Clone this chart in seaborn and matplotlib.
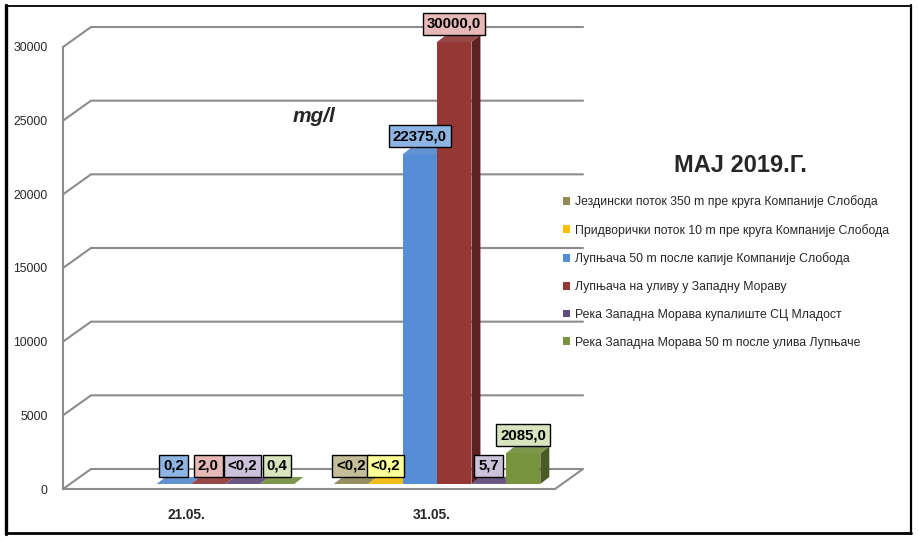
import matplotlib
matplotlib.use("Agg")
import matplotlib.pyplot as plt
import matplotlib.transforms as mtransforms
from matplotlib.lines import Line2D
from matplotlib.patches import Patch, Polygon
from matplotlib.colors import to_rgb
import numpy as np
import pandas as pd
import seaborn as sns

# data (mg/l)
dates = ["21.05.", "31.05."]
sites = [
    "Јездински поток 350 m пре круга Компаније Слобода",
    "Придворички поток 10 m пре круга Компаније Слобода",
    "Лупњача 50 m после капије Компаније Слобода",
    "Лупњача на уливу у Западну Мораву",
    "Река Западна Морава купалиште СЦ Младост",
    "Река Западна Морава 50 m после улива Лупњаче",
]
vals_2105 = [np.nan, np.nan, 0.2, 2.0, 0.2, 0.4]
vals_3105 = [0.2, 0.2, 22375.0, 30000.0, 5.7, 2085.0]
labels_2105 = [None, None, "0,2", "2,0", "<0,2", "0,4"]
labels_3105 = ["<0,2", "<0,2", "22375,0", "30000,0", "5,7", "2085,0"]
y_ticks = [0, 5000, 10000, 15000, 20000, 25000, 30000]

bar_colors = ["#948A54", "#FFC000", "#558ED5", "#953735", "#604A7B", "#77933C"]
box_colors = ["#C4BD97", "#FFFF99", "#8DB4E2", "#E6B9B8", "#CCC1DA", "#D7E4BD"]
grid_gray = "#8C8C8C"

# fake 3d offsets in pixels
WX, WY = 28, 20    # back wall
SX, SY = 5, 5      # bar front face
DX, DY = 9, 7      # bar depth

sns.set_style("white")
plt.rcParams["font.family"] = ["Liberation Sans", "DejaVu Sans"]

fig = plt.figure(figsize=(9.18, 5.4), dpi=100)
ax = fig.add_axes([63 / 918, 51 / 540, 492 / 918, 442 / 540])

df = pd.DataFrame({
    "date": np.repeat(dates, len(sites)),
    "site": sites * 2,
    "value": vals_2105 + vals_3105,
})
label_map = {dates[0]: labels_2105, dates[1]: labels_3105}

sns.barplot(data=df, x="date", y="value", hue="site", order=dates,
            hue_order=sites, palette=bar_colors, width=0.84, saturation=1,
            errorbar=None, legend=False, ax=ax, zorder=3,
            linewidth=0, edgecolor="none")

ax.set_xlim(-0.5, 1.5)
ax.set_ylim(0, 30000)
ax.set_xlabel("")
ax.set_ylabel("")
ax.grid(False)
for name, s in ax.spines.items():
    s.set_visible(name in ("left", "bottom"))
    s.set_color(grid_gray)
    s.set_linewidth(1.5)

ax.set_yticks(y_ticks)
ax.tick_params(axis="y", length=3, color=grid_gray, pad=8, labelsize=8.8)
ax.tick_params(axis="x", which="major", length=0, pad=14, labelsize=9.8)
ax.set_xticks([-0.5, 0.5, 1.5], minor=True)
ax.tick_params(axis="x", which="minor", length=6, color=grid_gray, width=1.2)
for t in ax.get_xticklabels():
    t.set_fontweight("bold")

ident = mtransforms.IdentityTransform()

# back wall grid and floor
for v in y_ticks:
    x0, y0 = ax.transData.transform((-0.5, v))
    x1, _ = ax.transData.transform((1.5, v))
    xs = [x0, x0 + WX, x1 + WX]
    ys = [y0, y0 + WY, y0 + WY]
    if v == 0:
        xs.append(x1)
        ys.append(y0)
    ax.add_line(Line2D(xs, ys, transform=ident, color=grid_gray, lw=1.5,
                       zorder=1, clip_on=False))

shift = mtransforms.offset_copy(ax.transData, fig=fig, x=SX, y=SY, units="dots")

for p in list(ax.patches):
    h = p.get_height()
    if np.isnan(h):
        continue
    fc = np.array(p.get_facecolor()[:3])
    idx = int(np.argmin([np.abs(fc - np.array(to_rgb(c))).sum() for c in bar_colors]))
    cx = p.get_x() + p.get_width() / 2
    cat = dates[int(round(cx))]
    p.set_transform(shift)
    p.set_clip_on(False)
    xl, yb = shift.transform((p.get_x(), 0))
    xr, yt = shift.transform((p.get_x() + p.get_width(), h))
    side = Polygon([(xr, yb), (xr, yt), (xr + DX, yt + DY), (xr + DX, yb + DY)],
                   closed=True, transform=ident, fc=fc * 0.62, ec="none",
                   zorder=2.9, clip_on=False)
    top = Polygon([(xl, yt), (xr, yt), (xr + DX, yt + DY), (xl + DX, yt + DY)],
                  closed=True, transform=ident, fc=fc * 0.85 + 0.1, ec="none",
                  zorder=2.9, clip_on=False)
    ax.add_patch(side)
    ax.add_patch(top)
    lab = label_map[cat][idx]
    if lab:
        ax.annotate(lab, xy=(cx, h), xytext=(SX, SY + 11),
                    textcoords="offset pixels", ha="center", va="bottom",
                    fontsize=10.8, fontweight="bold", color="black",
                    bbox=dict(boxstyle="square,pad=0.26", fc=box_colors[idx],
                              ec="black", lw=1),
                    zorder=6, annotation_clip=False)

fig.text(314 / 918, 1 - 117 / 540, "mg/l", ha="center", va="center",
         fontsize=15, fontweight="bold", fontstyle="italic")
fig.text(740 / 918, 1 - 165 / 540, "МАЈ 2019.Г.", ha="center", va="center",
         fontsize=17, fontweight="bold")

handles = [Patch(facecolor=c, edgecolor="none") for c in bar_colors]
fig.legend(handles, sites, loc="upper left",
           bbox_to_anchor=(563 / 918, 1 - 195 / 540), frameon=False,
           fontsize=8.8, handlelength=0.6, handleheight=0.6,
           handletextpad=0.4, labelspacing=1.29, borderpad=0,
           borderaxespad=0)

# picture frame
fig.add_artist(Line2D([5.5 / 918, 5.5 / 918], [6 / 540, 1 - 5 / 540],
                      transform=fig.transFigure, color="black", lw=2.4))
fig.add_artist(Line2D([5.5 / 918, 911 / 918], [1 - 5.5 / 540, 1 - 5.5 / 540],
                      transform=fig.transFigure, color="black", lw=1.3))
fig.add_artist(Line2D([911 / 918, 911 / 918], [6 / 540, 1 - 5 / 540],
                      transform=fig.transFigure, color="black", lw=1.6))
fig.add_artist(Line2D([5.5 / 918, 911 / 918], [7 / 540, 7 / 540],
                      transform=fig.transFigure, color="black", lw=2.0))

fig.savefig("out.png", dpi=100)
